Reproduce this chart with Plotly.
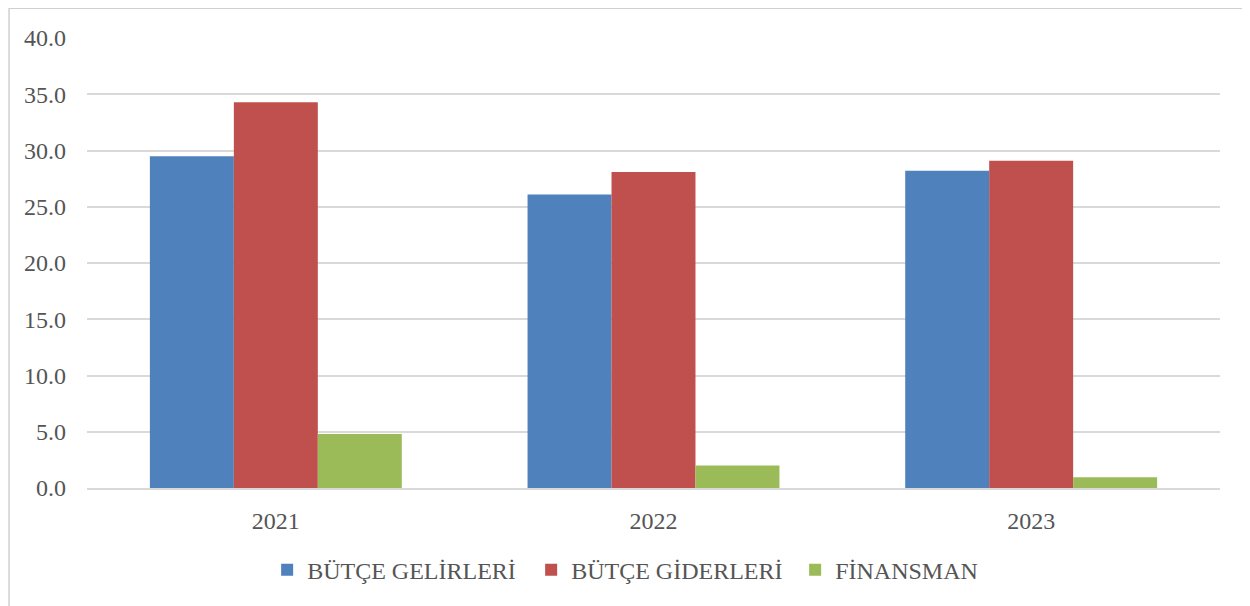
import plotly.graph_objects as go

years = ["2021", "2022", "2023"]
gelirler = [29.5, 26.1, 28.2]
giderler = [34.3, 28.1, 29.1]
finansman = [4.8, 2.0, 0.95]

series_names = ["BÜTÇE GELİRLERİ", "BÜTÇE GİDERLERİ", "FİNANSMAN"]
series_colors = ["#4F81BD", "#C0504D", "#9BBB59"]

font_family = "Times New Roman, Liberation Serif, serif"
text_color = "#555555"

fig = go.Figure()
for name, vals, col in zip(series_names, [gelirler, giderler, finansman], series_colors):
    fig.add_trace(go.Bar(x=years, y=vals, name=name, marker=dict(color=col, line=dict(width=0))))

fig.update_layout(
    width=1242, height=598,
    margin=dict(l=79, r=30, t=30, b=118),
    paper_bgcolor="white", plot_bgcolor="white",
    barmode="group", bargap=0.333, bargroupgap=0,
    font=dict(family=font_family, color=text_color, size=24),
    legend=dict(orientation="h", x=0.159, xanchor="left", y=-0.1826, yanchor="middle",
                font=dict(size=24, family=font_family, color=text_color), itemwidth=30,
                entrywidth=219, entrywidthmode="pixels",
                traceorder="normal"),
    showlegend=True,
)
fig.update_yaxes(range=[0, 40], dtick=5, tickformat=".1f", showgrid=True,
                 gridcolor="#d9d9d9", gridwidth=1.5, zeroline=False, showline=False,
                 ticklabelstandoff=20, tickfont=dict(size=24))
fig.update_xaxes(showline=True, linecolor="#d9d9d9", linewidth=1.5, showgrid=False,
                 ticklabelstandoff=10, tickfont=dict(size=24))

fig.add_shape(type="rect", xref="paper", yref="paper", x0=-0.0688, x1=1.0235, y0=-0.3, y1=1.066,
              line=dict(color="#d0d0d0", width=1.5), fillcolor="rgba(0,0,0,0)", layer="below")

fig.write_html("out.html")
